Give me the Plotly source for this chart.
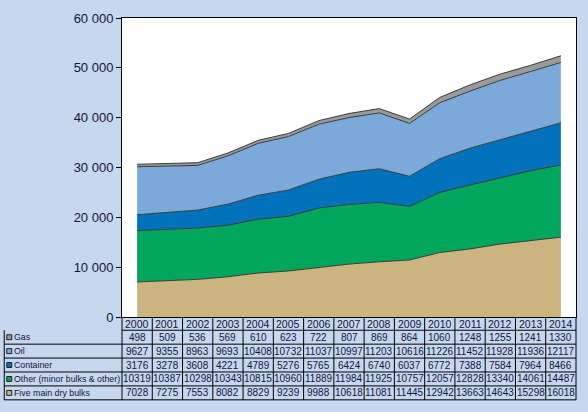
import plotly.graph_objects as go

years = [2000, 2001, 2002, 2003, 2004, 2005, 2006, 2007, 2008, 2009, 2010, 2011, 2012, 2013, 2014]
five_main = [7028, 7275, 7553, 8082, 8829, 9239, 9988, 10618, 11081, 11445, 12942, 13663, 14643, 15298, 16018]
other = [10319, 10387, 10298, 10343, 10815, 10960, 11889, 11984, 11925, 10757, 12057, 12828, 13340, 14061, 14487]
container = [3176, 3278, 3608, 4221, 4789, 5276, 5765, 6424, 6740, 6037, 6772, 7388, 7584, 7964, 8466]
oil = [9627, 9355, 8963, 9693, 10408, 10732, 11037, 10997, 11203, 10616, 11226, 11452, 11928, 11936, 12117]
gas = [498, 509, 536, 569, 610, 623, 722, 807, 869, 864, 1060, 1248, 1255, 1241, 1330]

series_names = ["Gas", "Oil", "Container", "Other (minor bulks & other)", "Five main dry bulks"]
series_values = [gas, oil, container, other, five_main]
series_colors = ["#9A9A9A", "#7BA9DA", "#0072BC", "#00A65B", "#CAB47F"]

y_ticks = [0, 10000, 20000, 30000, 40000, 50000, 60000]
y_tick_labels = ["0", "10 000", "20 000", "30 000", "40 000", "50 000", "60 000"]

W, H = 588, 412
ML, MR, MT, MB = 122, 11, 12, 95
PW, PH = W - ML - MR, H - MT - MB
BG = "#C6D8EE"
TXT = "#14143C"
FONT = "Liberation Sans, Arial"

x_lo, x_hi = years[0] - 0.5, years[-1] + 0.5


def px_x(p):
    return (p - ML) / PW


def px_y(p):
    return (MT + PH - p) / PH


def year_to_paper(v):
    return (v - x_lo) / (x_hi - x_lo)


fig = go.Figure()
for name, vals, col in reversed(list(zip(series_names, series_values, series_colors))):
    fig.add_trace(go.Scatter(
        x=years, y=vals, name=name, stackgroup="one", mode="lines",
        line=dict(color="#3A3A3A", width=1), fillcolor=col,
        hoverinfo="x+y+name",
    ))

shapes = []
annotations = []

row_edges = [MT + PH, 330.5, 344.7, 358.9, 373.1, 387.3, 401.5]
table_left = 4
line_style = dict(color="#000000", width=1)

shapes.append(dict(type="line", xref="paper", yref="paper",
                   x0=0, x1=1, y0=px_y(row_edges[1]), y1=px_y(row_edges[1]), line=line_style))
for e in row_edges[2:]:
    shapes.append(dict(type="line", xref="paper", yref="paper",
                       x0=px_x(table_left), x1=1, y0=px_y(e), y1=px_y(e), line=line_style))
shapes.append(dict(type="line", xref="paper", yref="paper",
                   x0=px_x(table_left), x1=px_x(table_left),
                   y0=px_y(row_edges[1]), y1=px_y(row_edges[-1]), line=line_style))
for i in range(len(years) + 1):
    xp = year_to_paper(years[0] - 0.5 + i)
    shapes.append(dict(type="line", xref="paper", yref="paper",
                       x0=xp, x1=xp, y0=0, y1=px_y(row_edges[-1]), line=line_style))

yc = px_y((row_edges[0] + row_edges[1]) / 2)
for yv in years:
    annotations.append(dict(xref="paper", yref="paper", x=year_to_paper(yv), y=yc,
                            text=str(yv), showarrow=False, xanchor="center", yanchor="middle",
                            font=dict(family=FONT, size=10.5, color=TXT)))

for r, (name, vals, col) in enumerate(zip(series_names, series_values, series_colors)):
    top, bot = row_edges[r + 1], row_edges[r + 2]
    yc = px_y((top + bot) / 2)
    ky = (top + bot) / 2
    shapes.append(dict(type="rect", xref="paper", yref="paper",
                       x0=px_x(6.5), x1=px_x(11.5), y0=px_y(ky + 2.5), y1=px_y(ky - 2.5),
                       fillcolor=col, line=dict(color="#202020", width=1)))
    annotations.append(dict(xref="paper", yref="paper", x=px_x(12), y=yc,
                            text=name, showarrow=False, xanchor="left", yanchor="middle",
                            font=dict(family=FONT, size=8.8, color=TXT)))
    for yv, v in zip(years, vals):
        annotations.append(dict(xref="paper", yref="paper", x=year_to_paper(yv), y=yc,
                                text=str(v), showarrow=False, xanchor="center", yanchor="middle",
                                font=dict(family=FONT, size=10, color=TXT)))

fig.update_layout(
    width=W, height=H,
    margin=dict(l=ML, r=MR, t=MT, b=MB, pad=0),
    paper_bgcolor=BG, plot_bgcolor="#FFFFFF",
    showlegend=False,
    xaxis=dict(range=[x_lo, x_hi], showticklabels=False, showgrid=False, zeroline=False,
               showline=True, linecolor="#000000", linewidth=1, mirror=True, ticks=""),
    yaxis=dict(range=[0, 60000], tickvals=y_ticks, ticktext=y_tick_labels,
               showgrid=False, zeroline=False, showline=True, linecolor="#000000",
               linewidth=1, mirror=True, ticks="outside", ticklen=5, tickcolor="#000000",
               tickfont=dict(family=FONT, size=13, color=TXT)),
    shapes=shapes,
    annotations=annotations,
)

post = ("document.body.style.margin='0px';document.body.style.overflow='hidden';"
        "var d=document.getElementById('{plot_id}');d.style.position='absolute';"
        "d.style.left='0px';d.style.top='0px';")
fig.write_html("out.html", post_script=post, config={"displayModeBar": False})
